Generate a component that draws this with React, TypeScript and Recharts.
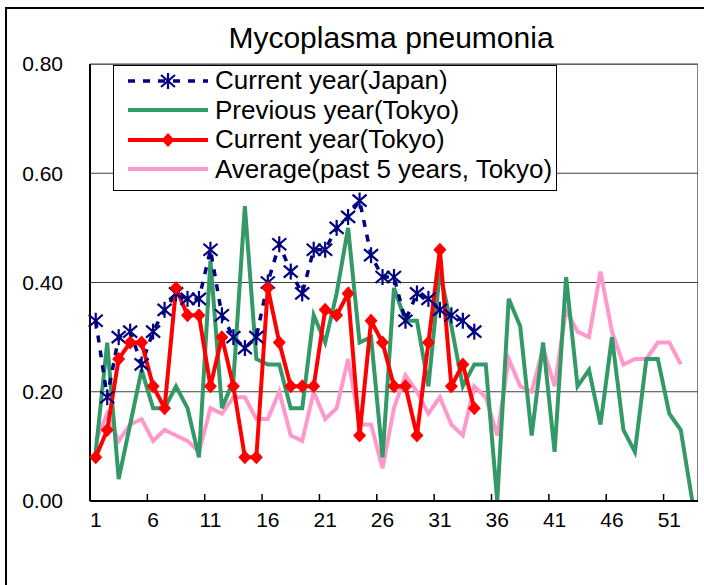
import React from 'react';
import { LineChart, Line, XAxis, YAxis, CartesianGrid } from 'recharts';

// week numbers on the x axis
const weeks = [
  1, 2, 3, 4, 5, 6, 7, 8, 9, 10, 11, 12, 13, 14, 15, 16, 17, 18, 19, 20,
  21, 22, 23, 24, 25, 26, 27, 28, 29, 30, 31, 32, 33, 34, 35, 36, 37, 38, 39, 40,
  41, 42, 43, 44, 45, 46, 47, 48, 49, 50, 51, 52, 53,
];

// per-sentinel-site reports
const currentJapan = [
  0.33, 0.19, 0.30, 0.31, 0.25, 0.31, 0.35, 0.38, 0.37, 0.37,
  0.46, 0.34, 0.30, 0.28, 0.30, 0.40, 0.47, 0.42, 0.38, 0.46,
  0.46, 0.50, 0.52, 0.55, 0.45, 0.41, 0.41, 0.33, 0.38, 0.37,
  0.35, 0.34, 0.33, 0.31,
];

const previousTokyo = [
  0.09, 0.29, 0.04, 0.14, 0.24, 0.17, 0.17, 0.21, 0.17, 0.08,
  0.44, 0.17, 0.22, 0.54, 0.26, 0.25, 0.25, 0.17, 0.17, 0.34,
  0.29, 0.38, 0.50, 0.29, 0.30, 0.08, 0.39, 0.33, 0.33, 0.21,
  0.42, 0.32, 0.21, 0.25, 0.25, 0.00, 0.37, 0.32, 0.12, 0.29,
  0.09, 0.41, 0.21, 0.24, 0.14, 0.30, 0.13, 0.09, 0.26, 0.26,
  0.16, 0.13, 0.00,
];

const currentTokyo = [
  0.08, 0.13, 0.26, 0.29, 0.29, 0.21, 0.17, 0.39, 0.34, 0.34,
  0.21, 0.30, 0.21, 0.08, 0.08, 0.39, 0.29, 0.21, 0.21, 0.21,
  0.35, 0.34, 0.38, 0.12, 0.33, 0.29, 0.21, 0.21, 0.12, 0.29,
  0.46, 0.21, 0.25, 0.17,
];

const average5y = [
  0.11, 0.16, 0.11, 0.14, 0.15, 0.11, 0.13, 0.12, 0.11, 0.09,
  0.17, 0.16, 0.19, 0.19, 0.15, 0.15, 0.20, 0.12, 0.11, 0.20,
  0.15, 0.17, 0.26, 0.14, 0.14, 0.06, 0.17, 0.23, 0.20, 0.16,
  0.19, 0.14, 0.12, 0.21, 0.19, 0.12, 0.26, 0.21, 0.20, 0.28,
  0.21, 0.35, 0.31, 0.30, 0.42, 0.31, 0.25, 0.26, 0.26, 0.29,
  0.29, 0.25,
];

const yTicks = [0, 0.2, 0.4, 0.6, 0.8];

const data = weeks.map((w, i) => ({
  week: w,
  japan: currentJapan[i] ?? null,
  prev: previousTokyo[i] ?? null,
  curr: currentTokyo[i] ?? null,
  avg: average5y[i] ?? null,
}));

const W = 704;
const H = 585;
const MARGIN = { top: 64, right: 6, bottom: 0, left: 0 };
const Y_AXIS_W = 90;
const X_AXIS_H = 84;
const PLOT_W = W - MARGIN.left - Y_AXIS_W - MARGIN.right;
const PLOT_H = H - MARGIN.top - X_AXIS_H - MARGIN.bottom;
const BAND = PLOT_W / weeks.length;
const AXIS_Y = MARGIN.top + PLOT_H;

const NAVY = '#000080';
const GREEN = '#339966';
const RED = '#FF0000';
const PINK = '#FF99CC';

const Asterisk = (props: any) => {
  const { cx, cy, value, index } = props;
  if (value == null || cx == null || cy == null) return <g key={index} />;
  return (
    <g key={index} stroke={NAVY} strokeWidth={2.2}>
      <line x1={cx} y1={cy - 8} x2={cx} y2={cy + 8} />
      <line x1={cx - 7} y1={cy - 6} x2={cx + 7} y2={cy + 6} />
      <line x1={cx - 7} y1={cy + 6} x2={cx + 7} y2={cy - 6} />
    </g>
  );
};

const Diamond = (props: any) => {
  const { cx, cy, value, index } = props;
  if (value == null || cx == null || cy == null) return <g key={index} />;
  return (
    <path
      key={index}
      d={`M${cx},${cy - 7}L${cx + 6.5},${cy}L${cx},${cy + 7}L${cx - 6.5},${cy}Z`}
      fill={RED}
    />
  );
};

const WeekTick = (props: any) => {
  const { x, y, payload } = props;
  return (
    <g>
      <line x1={x - BAND / 2} x2={x - BAND / 2} y1={AXIS_Y} y2={AXIS_Y - 7} stroke="#000" strokeWidth={1.5} />
      <text x={x} y={y} dy="0.71em" textAnchor="middle" fontSize={21} fill="#000">
        {payload.value}
      </text>
    </g>
  );
};

const legendItems = [
  { label: 'Current year(Japan)', color: NAVY, kind: 'japan' },
  { label: 'Previous year(Tokyo)', color: GREEN, kind: 'line' },
  { label: 'Current year(Tokyo)', color: RED, kind: 'diamond' },
  { label: 'Average(past 5 years, Tokyo)', color: PINK, kind: 'line' },
];

const LegendSymbol = ({ kind, color }: { kind: string; color: string }) => (
  <svg width={80} height={20} style={{ display: 'block' }}>
    {kind === 'japan' ? (
      <>
        <line x1={0} y1={10} x2={80} y2={10} stroke={color} strokeWidth={3.5} strokeDasharray="7 8" />
        <g stroke={color} strokeWidth={2.2}>
          <line x1={40} y1={2} x2={40} y2={18} />
          <line x1={33} y1={4} x2={47} y2={16} />
          <line x1={33} y1={16} x2={47} y2={4} />
        </g>
      </>
    ) : (
      <line x1={0} y1={10} x2={80} y2={10} stroke={color} strokeWidth={4} />
    )}
    {kind === 'diamond' && <path d="M40,3L46.5,10L40,17L33.5,10Z" fill={color} />}
  </svg>
);

export default function App() {
  return (
    <div
      style={{
        position: 'absolute',
        left: 0,
        top: 0,
        width: W,
        height: H,
        overflow: 'hidden',
        background: '#fff',
        fontFamily: "'Liberation Sans', Arial, sans-serif",
      }}
    >
      {/* chart area border */}
      <div
        style={{
          position: 'absolute',
          left: 5,
          top: 7,
          width: W + 20,
          height: H + 20,
          border: '2px solid #000',
        }}
      />
      {/* plot area frame */}
      <div
        style={{
          position: 'absolute',
          left: Y_AXIS_W,
          top: MARGIN.top,
          width: PLOT_W,
          height: PLOT_H,
          boxSizing: 'border-box',
          borderTop: '1px solid #808080',
          borderRight: '1px solid #808080',
        }}
      />
      <div
        style={{
          position: 'absolute',
          left: 91,
          top: 21,
          width: 600,
          textAlign: 'center',
          fontSize: 30,
          lineHeight: '34px',
          color: '#000',
        }}
      >
        Mycoplasma pneumonia
      </div>
      <div style={{ position: 'absolute', left: 0, top: 0 }}>
        <LineChart width={W} height={H} data={data} margin={MARGIN}>
          <CartesianGrid horizontal vertical={false} stroke="#404040" strokeWidth={1} />
          <XAxis
            dataKey="week"
            type="category"
            interval={4}
            height={X_AXIS_H}
            padding={{ left: BAND / 2, right: BAND / 2 }}
            axisLine={{ stroke: '#000', strokeWidth: 2 }}
            tickLine={false}
            tickSize={0}
            tickMargin={11}
            tick={<WeekTick />}
          />
          <YAxis
            width={Y_AXIS_W}
            domain={[0, 0.8]}
            ticks={yTicks}
            tickFormatter={(v: number) => v.toFixed(2)}
            axisLine={{ stroke: '#000', strokeWidth: 2 }}
            tickLine={false}
            tickSize={0}
            tickMargin={27}
            tick={{ fontSize: 21, fill: '#000' }}
          />
          <Line dataKey="avg" type="linear" stroke={PINK} strokeWidth={4} dot={false} activeDot={false} isAnimationActive={false} />
          <Line dataKey="prev" type="linear" stroke={GREEN} strokeWidth={4} dot={false} activeDot={false} isAnimationActive={false} />
          <Line
            dataKey="japan"
            type="linear"
            stroke={NAVY}
            strokeWidth={3.5}
            strokeDasharray="7 8"
            dot={<Asterisk />}
            activeDot={false}
            isAnimationActive={false}
          />
          <Line dataKey="curr" type="linear" stroke={RED} strokeWidth={4} dot={<Diamond />} activeDot={false} isAnimationActive={false} />
        </LineChart>
      </div>
      {/* legend */}
      <div
        style={{
          position: 'absolute',
          left: 113,
          top: 65,
          width: 444,
          height: 126,
          boxSizing: 'border-box',
          border: '1px solid #000',
          background: '#fff',
        }}
      >
        {legendItems.map((item) => (
          <div key={item.label} style={{ display: 'flex', alignItems: 'center', height: 29.5, paddingLeft: 14 }}>
            <LegendSymbol kind={item.kind} color={item.color} />
            <span style={{ marginLeft: 7, fontSize: 26, lineHeight: '29px', color: '#000', whiteSpace: 'nowrap' }}>
              {item.label}
            </span>
          </div>
        ))}
      </div>
    </div>
  );
}
